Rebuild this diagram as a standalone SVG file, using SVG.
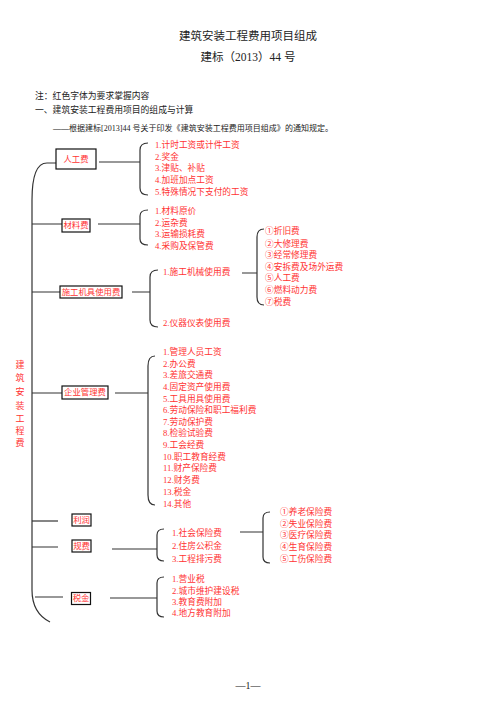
<svg xmlns="http://www.w3.org/2000/svg" width="496" height="702" viewBox="0 0 496 702">
<style>
text{font-family:"Liberation Serif","Noto Sans CJK SC",serif;dominant-baseline:central}
.blk{fill:#222}
.red{fill:#f33}
.it{font-size:8.7px;fill:#f33}
.box{fill:#fff;stroke:#111;stroke-width:1.2}
.lbl{font-size:8.4px;fill:#f33;text-anchor:middle}
.ln{fill:none;stroke:#333;stroke-width:1.2}
</style>
<rect width="496" height="702" fill="#fff"/>
<g id="header">
<text x="248" y="36" text-anchor="middle" font-size="11.5" class="blk">建筑安装工程费用项目组成</text>
<text x="248" y="57" text-anchor="middle" font-size="11.5" class="blk">建标（2013）44 号</text>
<text x="35" y="96" font-size="8.8" class="blk">注：红色字体为要求掌握内容</text>
<text x="35" y="110" font-size="8.8" class="blk">一、建筑安装工程费用项目的组成与计算</text>
<text x="53" y="128" font-size="8" class="blk" textLength="280" lengthAdjust="spacingAndGlyphs">——根据建标[2013]44 号关于印发《建筑安装工程费用项目组成》的通知规定。</text>
</g>
<g id="connectors">
<path class="ln" d="M56,163 L47,163 C37,163 32,175 32,200 L32,590 C32,606 38,616 50,622"/>
<path class="ln" d="M99,162 L140,162 M148,143 Q140,143 140,150 L140,188 Q140,195 148,195"/>
<path class="ln" d="M32,224 L62,224 M98,224 L140,224 M148,210 Q140,210 140,216 L140,239 Q140,245 148,245"/>
<path class="ln" d="M32,292 L60,292 M132,292 L150,292 M158,270 Q150,270 150,277 L150,320 Q150,327 158,327"/>
<path class="ln" d="M242,273 L257,273 M264,229 Q257,229 257,237 L257,297 Q257,305 264,305"/>
<path class="ln" d="M32,393 L62,393 M115,393 L148,393 M155,356 Q148,356 148,366 L148,495 Q148,505 155,505"/>
<path class="ln" d="M32,521 L58,521"/>
<path class="ln" d="M32,547 L58,547 M112,549 L157,549 M164,529 Q157,529 157,535 L157,555 Q157,561 164,561"/>
<path class="ln" d="M240,532 L263,532 M270,512 Q263,512 263,518 L263,557 Q263,563 270,563"/>
<path class="ln" d="M35,597 L63,597 M110,598 L157,598 M164,577 Q157,577 157,583 L157,611 Q157,617 164,617"/>
</g>
<g id="root">
<text x="20" y="365" font-size="9" class="red" text-anchor="middle">建</text>
<text x="20" y="378" font-size="9" class="red" text-anchor="middle">筑</text>
<text x="20" y="392" font-size="9" class="red" text-anchor="middle">安</text>
<text x="20" y="406" font-size="9" class="red" text-anchor="middle">装</text>
<text x="20" y="419" font-size="9" class="red" text-anchor="middle">工</text>
<text x="20" y="431" font-size="9" class="red" text-anchor="middle">程</text>
<text x="20" y="443" font-size="9" class="red" text-anchor="middle">费</text>
</g>
<g id="n-rengong">
<rect class="box" x="56" y="149" width="40" height="20"/>
<text class="lbl" x="76" y="159">人工费</text>
</g>
<g id="l-rengong" class="it">
<text x="155" y="145">1.计时工资或计件工资</text>
<text x="155" y="157">2.奖金</text>
<text x="155" y="168">3.津贴、补贴</text>
<text x="155" y="180">4.加班加点工资</text>
<text x="155" y="192">5.特殊情况下支付的工资</text>
</g>
<g id="n-cailiao">
<rect class="box" x="62" y="219" width="28" height="13"/>
<text class="lbl" x="76" y="225.5">材料费</text>
</g>
<g id="l-cailiao" class="it">
<text x="155" y="211">1.材料原价</text>
<text x="155" y="223">2.运杂费</text>
<text x="155" y="234">3.运输损耗费</text>
<text x="155" y="246">4.采购及保管费</text>
</g>
<g id="n-jiju">
<rect class="box" x="60" y="286" width="62" height="12"/>
<text class="lbl" x="91" y="292">施工机具使用费</text>
</g>
<g id="l-jiju" class="it">
<text x="163" y="272">1.施工机械使用费</text>
<text x="163" y="323">2.仪器仪表使用费</text>
</g>
<g id="l-jixie" class="it">
<text x="265" y="231">①折旧费</text>
<text x="265" y="244">②大修理费</text>
<text x="265" y="255">③经常修理费</text>
<text x="265" y="267">④安拆费及场外运费</text>
<text x="265" y="278">⑤人工费</text>
<text x="265" y="290">⑥燃料动力费</text>
<text x="265" y="302">⑦税费</text>
</g>
<g id="n-qiye">
<rect class="box" x="62" y="386" width="46" height="13"/>
<text class="lbl" x="85" y="392.5">企业管理费</text>
</g>
<g id="l-qiye" class="it">
<text x="163" y="352">1.管理人员工资</text>
<text x="163" y="364">2.办公费</text>
<text x="163" y="375">3.差旅交通费</text>
<text x="163" y="387">4.固定资产使用费</text>
<text x="163" y="399">5.工具用具使用费</text>
<text x="163" y="410">6.劳动保险和职工福利费</text>
<text x="163" y="422">7.劳动保护费</text>
<text x="163" y="433">8.检验试验费</text>
<text x="163" y="445">9.工会经费</text>
<text x="163" y="457">10.职工教育经费</text>
<text x="163" y="468">11.财产保险费</text>
<text x="163" y="480">12.财务费</text>
<text x="163" y="492">13.税金</text>
<text x="163" y="504">14.其他</text>
</g>
<g id="n-lirun">
<rect class="box" x="72" y="514" width="19" height="12"/>
<text class="lbl" x="81.5" y="520">利润</text>
</g>
<g id="n-guifei">
<rect class="box" x="72" y="540" width="19" height="12"/>
<text class="lbl" x="81.5" y="546">规费</text>
</g>
<g id="l-guifei" class="it">
<text x="172" y="533">1.社会保险费</text>
<text x="172" y="546">2.住房公积金</text>
<text x="172" y="559">3.工程排污费</text>
</g>
<g id="l-shebao" class="it">
<text x="280" y="512">①养老保险费</text>
<text x="280" y="524">②失业保险费</text>
<text x="280" y="535">③医疗保险费</text>
<text x="280" y="547">④生育保险费</text>
<text x="280" y="559">⑤工伤保险费</text>
</g>
<g id="n-shuijin">
<rect class="box" x="71.5" y="592.5" width="19" height="12"/>
<text class="lbl" x="81" y="598.5">税金</text>
</g>
<g id="l-shuijin" class="it">
<text x="172" y="579">1.营业税</text>
<text x="172" y="591">2.城市维护建设税</text>
<text x="172" y="602">3.教育费附加</text>
<text x="172" y="613">4.地方教育附加</text>
</g>
<g id="footer">
<text x="248" y="685" text-anchor="middle" font-size="10" class="blk">—1—</text>
</g>
</svg>
